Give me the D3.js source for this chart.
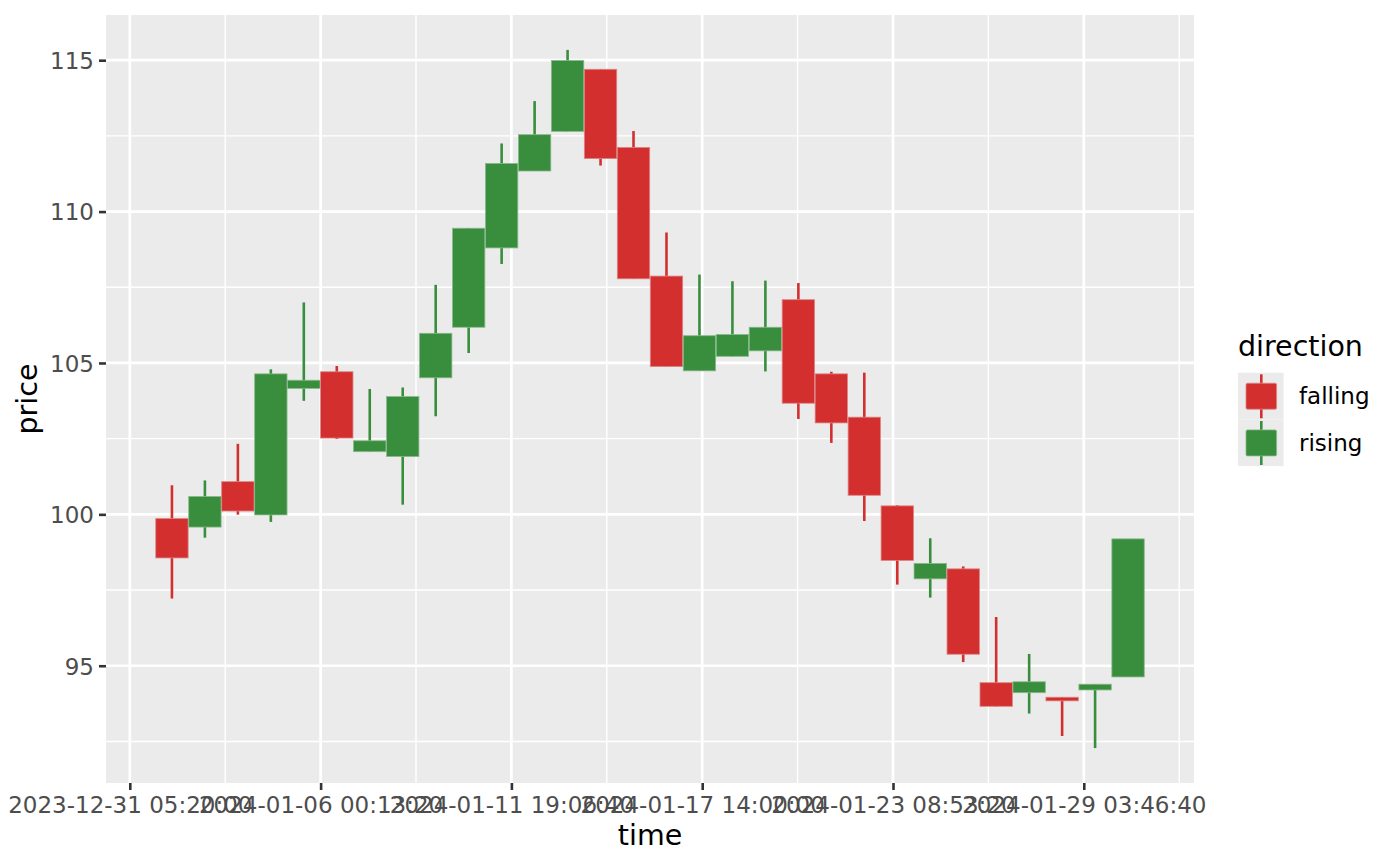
<!doctype html>
<html>
<head>
<meta charset="utf-8">
<script src="https://cdn.jsdelivr.net/npm/d3@7"></script>
<style>
  body { margin: 0; background: #fff; }
  text { font-family: "DejaVu Sans", sans-serif; }
</style>
</head>
<body>
<svg width="1400" height="866"></svg>
<script>

// daily candles, one per day (each drawn over its full UTC day)
let dates = ["2024-01-01","2024-01-02","2024-01-03","2024-01-04","2024-01-05",
             "2024-01-06","2024-01-07","2024-01-08","2024-01-09","2024-01-10",
             "2024-01-11","2024-01-12","2024-01-13","2024-01-14","2024-01-15",
             "2024-01-16","2024-01-17","2024-01-18","2024-01-19","2024-01-20",
             "2024-01-21","2024-01-22","2024-01-23","2024-01-24","2024-01-25",
             "2024-01-26","2024-01-27","2024-01-28","2024-01-29","2024-01-30"]

let open  = [99.86, 99.58, 101.08, 99.98, 104.16, 104.71, 102.07, 101.91, 104.51, 106.18,
             108.80, 111.34, 112.65, 114.70, 112.12, 107.87, 104.74, 105.22, 105.40, 107.09,
             104.64, 103.21, 100.28, 97.87, 98.20, 94.44, 94.11, 93.96, 94.20, 94.63]
let high  = [100.96, 101.12, 102.33, 104.79, 107.00, 104.90, 104.14, 104.19, 107.58, 109.45,
             112.25, 113.65, 115.34, 114.70, 112.66, 109.31, 107.92, 107.70, 107.72, 107.64,
             104.71, 104.68, 100.30, 99.21, 98.28, 96.61, 95.39, 93.96, 94.39, 99.19]
let low   = [97.22, 99.23, 99.99, 99.75, 103.75, 102.49, 102.07, 100.32, 103.24, 105.33,
             108.27, 111.34, 112.65, 111.52, 107.78, 104.88, 104.74, 105.22, 104.72, 103.15,
             102.36, 99.78, 97.68, 97.25, 95.12, 93.66, 93.42, 92.68, 92.28, 94.63]
let close = [98.56, 100.59, 100.11, 104.64, 104.43, 102.52, 102.43, 103.89, 105.98, 109.45,
             111.59, 112.54, 114.99, 111.75, 107.78, 104.88, 105.90, 105.94, 106.18, 103.67,
             103.02, 100.63, 98.48, 98.38, 95.38, 93.66, 94.47, 93.84, 94.39, 99.19]

let xTickLabels = ["2023-12-31 05:20:00","2024-01-06 00:13:20","2024-01-11 19:06:40",
                   "2024-01-17 14:00:00","2024-01-23 08:53:20","2024-01-29 03:46:40"]
let yTickValues = [95, 100, 105, 110, 115]

let directions = ["falling", "rising"]
let dirColors  = ["#D32F2F", "#388E3C"]

let svg = d3.select("svg")

let panel = { left: 106, top: 15, right: 1194, bottom: 783 }
let day = 86400000

let parseDay = d3.utcParse("%Y-%m-%d")
let parseTick = d3.utcParse("%Y-%m-%d %H:%M:%S")
let fmtTick = d3.utcFormat("%Y-%m-%d %H:%M:%S")

let candles = dates.map(function(d, i) {
  let t0 = parseDay(d)
  return {
    t0: t0,
    t1: new Date(+t0 + day),
    tm: new Date(+t0 + day / 2),
    open: open[i], high: high[i], low: low[i], close: close[i],
    dir: close[i] > open[i] ? "rising" : "falling"
  }
})

// ggplot style 5% expansion
function expand(lo, hi) {
  let r = hi - lo
  return [lo - r * 0.05, hi + r * 0.05]
}

let xd = expand(+candles[0].t0, +candles[candles.length - 1].t1)
let yd = expand(d3.min(low), d3.max(high))

let x = d3.scaleUtc().domain([new Date(xd[0]), new Date(xd[1])]).range([panel.left, panel.right])
let y = d3.scaleLinear().domain(yd).range([panel.bottom, panel.top])
let col = d3.scaleOrdinal().domain(directions).range(dirColors)

let xTicks = xTickLabels.map(parseTick)

// panel background
svg.append("rect")
  .attr("x", panel.left).attr("y", panel.top)
  .attr("width", panel.right - panel.left).attr("height", panel.bottom - panel.top)
  .attr("fill", "#EBEBEB")

// minor grid (midpoints between breaks)
let xStep = +xTicks[1] - +xTicks[0]
let xMinor = []
for (let t = +xTicks[0] - xStep / 2; t <= xd[1]; t += xStep) if (t >= xd[0]) xMinor.push(new Date(t))
let yMinor = []
for (let v = yTickValues[0] - 2.5; v <= yd[1]; v += 5) if (v >= yd[0]) yMinor.push(v)

let grid = svg.append("g")
grid.selectAll(".xminor").data(xMinor).enter().append("line")
  .attr("x1", d => x(d)).attr("x2", d => x(d))
  .attr("y1", panel.top).attr("y2", panel.bottom)
  .attr("stroke", "white").attr("stroke-width", 1.4)
grid.selectAll(".yminor").data(yMinor).enter().append("line")
  .attr("x1", panel.left).attr("x2", panel.right)
  .attr("y1", d => y(d)).attr("y2", d => y(d))
  .attr("stroke", "white").attr("stroke-width", 1.4)
grid.selectAll(".xmajor").data(xTicks).enter().append("line")
  .attr("x1", d => x(d)).attr("x2", d => x(d))
  .attr("y1", panel.top).attr("y2", panel.bottom)
  .attr("stroke", "white").attr("stroke-width", 2.7)
grid.selectAll(".ymajor").data(yTickValues).enter().append("line")
  .attr("x1", panel.left).attr("x2", panel.right)
  .attr("y1", d => y(d)).attr("y2", d => y(d))
  .attr("stroke", "white").attr("stroke-width", 2.7)

// wicks
svg.append("g").selectAll("line").data(candles).enter().append("line")
  .attr("x1", d => x(d.tm)).attr("x2", d => x(d.tm))
  .attr("y1", d => y(d.high)).attr("y2", d => y(d.low))
  .attr("stroke", d => col(d.dir)).attr("stroke-width", 2.6)

// bodies
svg.append("g").selectAll("rect").data(candles).enter().append("rect")
  .attr("x", d => x(d.t0) + 0.3)
  .attr("width", d => x(d.t1) - x(d.t0) - 0.6)
  .attr("y", d => y(Math.max(d.open, d.close)))
  .attr("height", d => Math.max(1, y(Math.min(d.open, d.close)) - y(Math.max(d.open, d.close))))
  .attr("fill", d => col(d.dir))
  .attr("stroke", d => d3.interpolateRgb(col(d.dir), "#EBEBEB")(0.45))
  .attr("stroke-width", 0.8)

// axes
let xAxis = svg.append("g")
  .attr("transform", "translate(0," + panel.bottom + ")")
  .call(d3.axisBottom(x).tickValues(xTicks).tickFormat(fmtTick).tickSize(7).tickPadding(6))
let yAxis = svg.append("g")
  .attr("transform", "translate(" + panel.left + ",0)")
  .call(d3.axisLeft(y).tickValues(yTickValues).tickSize(7).tickPadding(5))

for (let ax of [xAxis, yAxis]) {
  ax.select(".domain").remove()
  ax.selectAll(".tick line").attr("stroke", "#333333").attr("stroke-width", 2.6)
  ax.selectAll(".tick text")
    .attr("fill", "#4D4D4D")
    .style("font-size", "23px")
    .style("font-family", "DejaVu Sans")
}
xAxis.selectAll(".tick text").attr("dy", "0.75em")
yAxis.selectAll(".tick text").attr("dy", "0.36em")

// axis titles
svg.append("text")
  .attr("x", (panel.left + panel.right) / 2).attr("y", 845)
  .attr("text-anchor", "middle")
  .style("font-size", "28.5px")
  .text("time")
svg.append("text")
  .attr("transform", "translate(37," + ((panel.top + panel.bottom) / 2) + ") rotate(-90)")
  .attr("text-anchor", "middle")
  .style("font-size", "28.5px")
  .text("price")

// legend
let lg = svg.append("g").attr("transform", "translate(1238,0)")
lg.append("text").attr("x", 0).attr("y", 356)
  .style("font-size", "28.5px").text("direction")

let keys = lg.selectAll(".key").data(directions).enter().append("g")
  .attr("transform", (d, i) => "translate(0," + (372.7 + i * 46.7) + ")")
keys.append("rect")
  .attr("width", 45.6).attr("height", 46.7).attr("fill", "#EBEBEB")
keys.append("line")
  .attr("x1", 23.3).attr("x2", 23.3).attr("y1", 1.6).attr("y2", 45.6)
  .attr("stroke", d => col(d)).attr("stroke-width", 2.6)
keys.append("rect")
  .attr("x", 8).attr("y", 10.5).attr("width", 30.6).attr("height", 26)
  .attr("rx", 1.5)
  .attr("fill", d => col(d))
  .attr("stroke", d => d3.interpolateRgb(col(d), "#EBEBEB")(0.45))
  .attr("stroke-width", 0.8)
keys.append("text")
  .attr("x", 61).attr("y", 23.3).attr("dy", "0.36em")
  .style("font-size", "23px")
  .text(d => d)

</script>
</body>
</html>
